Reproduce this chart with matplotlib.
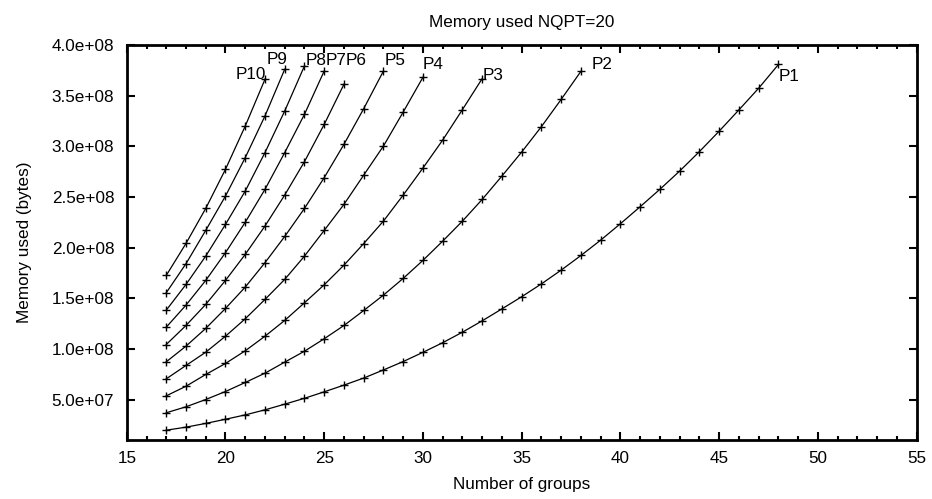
import matplotlib
matplotlib.use("Agg")
import matplotlib.pyplot as plt
from matplotlib.ticker import MultipleLocator, FuncFormatter

plt.rcParams['font.family'] = ['Liberation Sans', 'DejaVu Sans']

# Memory used (bytes) versus number of groups, one series per process count
groups_start = 17
P1 = [1.97e7, 2.27e7, 2.64e7, 3.05e7, 3.48e7, 3.98e7, 4.54e7, 5.12e7, 5.76e7, 6.42e7,
      7.12e7, 7.92e7, 8.75e7, 9.66e7, 1.061e8, 1.165e8, 1.277e8, 1.395e8, 1.515e8, 1.642e8,
      1.778e8, 1.922e8, 2.074e8, 2.236e8, 2.404e8, 2.576e8, 2.756e8, 2.948e8, 3.150e8,
      3.360e8, 3.574e8, 3.808e8]
P2 = [3.69e7, 4.28e7, 5.00e7, 5.79e7, 6.68e7, 7.60e7, 8.69e7, 9.77e7, 1.100e8, 1.231e8,
      1.379e8, 1.531e8, 1.696e8, 1.874e8, 2.064e8, 2.262e8, 2.476e8, 2.707e8, 2.944e8,
      3.195e8, 3.464e8, 3.741e8]
P3 = [5.36e7, 6.31e7, 7.47e7, 8.56e7, 9.81e7, 1.125e8, 1.281e8, 1.455e8, 1.633e8, 1.827e8,
      2.040e8, 2.262e8, 2.519e8, 2.786e8, 3.062e8, 3.363e8, 3.669e8]
P4 = [7.04e7, 8.36e7, 9.67e7, 1.125e8, 1.297e8, 1.488e8, 1.686e8, 1.916e8, 2.170e8,
      2.427e8, 2.716e8, 3.003e8, 3.339e8, 3.682e8]
P5 = [8.72e7, 1.027e8, 1.202e8, 1.399e8, 1.610e8, 1.851e8, 2.110e8, 2.387e8, 2.691e8,
      3.020e8, 3.372e8, 3.744e8]
P6 = [1.043e8, 1.231e8, 1.439e8, 1.676e8, 1.933e8, 2.213e8, 2.519e8, 2.849e8, 3.217e8,
      3.613e8]
P7 = [1.214e8, 1.432e8, 1.676e8, 1.950e8, 2.250e8, 2.575e8, 2.938e8, 3.316e8, 3.744e8]
P8 = [1.382e8, 1.636e8, 1.916e8, 2.229e8, 2.558e8, 2.938e8, 3.349e8, 3.794e8]
P9 = [1.554e8, 1.841e8, 2.170e8, 2.509e8, 2.888e8, 3.300e8, 3.761e8]
P10 = [1.725e8, 2.041e8, 2.387e8, 2.773e8, 3.200e8, 3.662e8]

series = [("P1", P1), ("P2", P2), ("P3", P3), ("P4", P4), ("P5", P5),
          ("P6", P6), ("P7", P7), ("P8", P8), ("P9", P9), ("P10", P10)]

# label placement relative to each curve's last point (points: dx, dy)
label_offsets = {
    "P1": (0, -9), "P2": (8, 4.5), "P3": (0, 2), "P4": (0, 9), "P5": (1, 7.5),
    "P6": (1, 17), "P7": (1, 7.5), "P8": (1, 4), "P9": (-13, 7), "P10": (-21, 3.5),
}

FS = 12.3

fig = plt.figure(figsize=(9.32, 4.99), dpi=100)
ax = fig.add_axes([0.136, 0.1182, 0.8476, 0.7916])

for name, vals in series:
    xs = list(range(groups_start, groups_start + len(vals)))
    ax.plot(xs, vals, color='black', lw=0.9, marker='+', ms=5.5, mew=1.0)
    dx, dy = label_offsets[name]
    ax.annotate(name, (xs[-1], vals[-1]), xytext=(dx, dy), textcoords='offset points',
                ha='left', va='center', fontsize=FS)

ax.set_xlim(15, 55)
ax.set_ylim(1e7, 4e8)
ax.xaxis.set_major_locator(MultipleLocator(5))
ax.xaxis.set_minor_locator(MultipleLocator(1))
ax.yaxis.set_major_locator(MultipleLocator(5e7))
ax.yaxis.set_major_formatter(FuncFormatter(lambda v, p: f"{v:.1e}"))

ax.tick_params(which='both', direction='in', top=True, right=True, width=1.5,
               labelsize=FS)
ax.tick_params(axis='y', pad=9)
ax.tick_params(axis='x', pad=8)
ax.tick_params(which='major', length=6)
ax.tick_params(which='minor', length=3)
for s in ax.spines.values():
    s.set_linewidth(2)

ax.set_title("Memory used NQPT=20", fontsize=FS, pad=13)
ax.set_xlabel("Number of groups", fontsize=FS, labelpad=8)
ax.set_ylabel("Memory used (bytes)", fontsize=FS, labelpad=14)

fig.savefig("out.png", dpi=100)
